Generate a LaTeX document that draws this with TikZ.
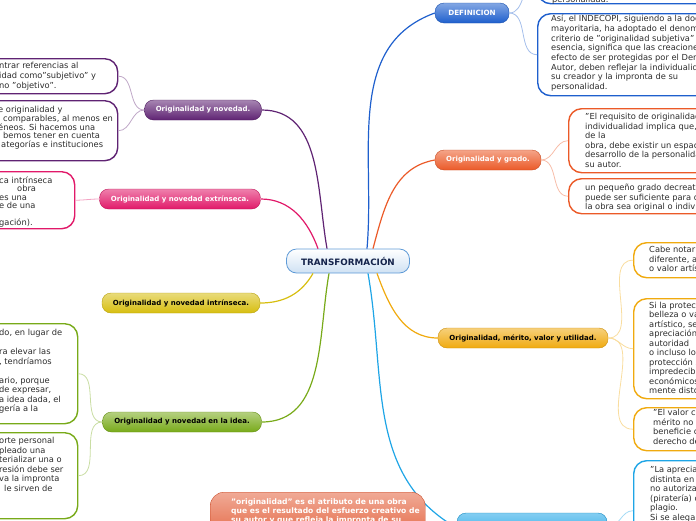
\documentclass[tikz,border=0pt]{standalone}
\usepackage{fontspec}
\setmainfont{DejaVu Sans}
\usetikzlibrary{positioning,calc}

\definecolor{defblue}{RGB}{30,95,205}
\definecolor{gradoorange}{RGB}{235,90,40}
\definecolor{meritoyellow}{RGB}{240,170,15}
\definecolor{plagioblue}{RGB}{30,165,230}
\definecolor{novpurple}{RGB}{95,35,115}
\definecolor{extpink}{RGB}{225,25,105}
\definecolor{intyellow}{RGB}{215,190,15}
\definecolor{ideagreen}{RGB}{120,170,25}
\definecolor{rootblue}{RGB}{95,155,215}
\definecolor{rootnavy}{RGB}{20,35,75}
\definecolor{notaorange}{RGB}{225,85,45}
\definecolor{bodytext}{RGB}{45,45,45}

\tikzset{
  root/.style={rectangle, rounded corners=10pt, draw=rootblue, line width=0.8pt,
    top color=white, bottom color=rootblue!30, minimum width=123pt, minimum height=24pt,
    font=\fontsize{8.8}{10}\selectfont\bfseries, text=rootnavy, inner sep=0pt},
  branch/.style={rectangle, rounded corners=9pt, draw=#1!85!black, line width=0.4pt,
    top color=#1!55!white, bottom color=#1, minimum height=20pt,
    font=\fontsize{7}{8}\selectfont\bfseries, text=white, inner sep=0pt},
  darkbranch/.style={branch=#1, text=black},
  leaf/.style={rectangle, rounded corners=13pt, draw=#1, line width=1.4pt, fill=white,
    anchor=north west, inner sep=0pt},
  leaftext/.style={anchor=north west, align=left, inner sep=0pt,
    font=\fontsize{8.3}{9.5}\selectfont, text=bodytext},
  stem/.style={line width=1.2pt, draw=#1},
  twig/.style={line width=0.8pt, draw=#1!40!white},
}

\begin{document}
\begin{tikzpicture}[x=1pt,y=1pt]
\useasboundingbox (0,0) rectangle (696,-520);
\clip (0,0) rectangle (696,-520);

%centre
\node[root] (root) at (348,-261) {TRANSFORMACIÓN};

%right branches
\node[branch=defblue, minimum width=74pt, font=\fontsize{7.2}{8}\selectfont\bfseries] (defi) at (472,-13) {DEFINICION};
\node[branch=gradoorange, minimum width=106pt] (grado) at (488,-160) {Originalidad y grado.};
\node[darkbranch=meritoyellow, minimum width=170pt] (merito) at (523,-338) {Originalidad, mérito, valor y utilidad.};
\node[branch=plagioblue, minimum width=150pt, minimum height=30pt] (plagio) at (532,-528) {};

%left branches
\node[branch=novpurple, minimum width=117pt] (novedad) at (203,-110) {Originalidad y novedad.};
\node[branch=extpink, minimum width=161pt] (extrin) at (180,-199) {Originalidad y novedad extrínseca.};
\node[darkbranch=intyellow, minimum width=158pt] (intrin) at (181,-303) {Originalidad y novedad intrínseca.};
\node[darkbranch=ideagreen, minimum width=159pt] (enidea) at (182,-422) {Originalidad y novedad en la idea.};

%stems
\draw[stem=defblue] ([xshift=19pt]root.north) to[out=85,in=200] (defi.west);
\draw[stem=gradoorange] ([xshift=25pt]root.north) to[out=75,in=190] (grado.west);
\draw[stem=meritoyellow] ([xshift=29pt]root.south) to[out=-70,in=180] (merito.west);
\draw[stem=plagioblue] ([xshift=20pt]root.south) to[out=-80,in=150] (plagio.west);
\draw[stem=novpurple] ([xshift=-21pt]root.north) to[out=100,in=0] (novedad.east);
\draw[stem=extpink] ([xshift=-30pt]root.north) to[out=110,in=0] (extrin.east);
\draw[stem=intyellow] ([xshift=-35pt]root.south) to[out=-120,in=0] (intrin.east);
\draw[stem=ideagreen] ([xshift=-19pt]root.south) to[out=-100,in=0] (enidea.east);

%DEFINICION
\node[leaf=defblue, minimum width=200pt, minimum height=43pt] (defa) at (537,40) {};
\node[leaf=defblue, minimum width=200pt, minimum height=82pt] (defb) at (537,-13) {};
\node[leaftext, anchor=base west] (defatxt) at (552,-2.5) {personalidad.};
\node[leaftext, font=\fontsize{8.3}{9.7}\selectfont] (defbtxt) at (551,-14.8) {Así, el INDECOPI, siguiendo a la doctrina\\
mayoritaria, ha adoptado el denominado\\
criterio de "originalidad subjetiva" que en\\
esencia, significa que las creaciones, a\\
efecto de ser protegidas por el Derecho de\\
Autor, deben reflejar la individualidad de\\
su creador y la impronta de su\\
personalidad.};
\draw[twig=defblue] (defi.east) to[out=0,in=180] (defa.west);
\draw[twig=defblue] (defi.east) to[out=0,in=180] (defb.west);

%grado
\node[leaf=gradoorange, minimum width=160pt, minimum height=64pt] (gradoa) at (568,-108) {};
\node[leaf=gradoorange, minimum width=160pt, minimum height=35pt] (gradob) at (568,-178) {};
\node[leaftext] (gradoatxt) at (585,-113) {"El requisito de originalidad o\\
individualidad implica que, para\\
de la\\
obra, debe existir un espacio para el\\
desarrollo de la personalidad de\\
su autor.};
\node[leaftext] (gradobtxt) at (585,-184) {un pequeño grado decreatividad\\
puede ser suficiente para determinar que\\
la obra sea original o individual};
\draw[twig=gradoorange] (grado.east) to[out=0,in=180] (gradoa.west);
\draw[twig=gradoorange] (grado.east) to[out=0,in=180] (gradob.west);

%merito
\node[leaf=meritoyellow, minimum width=100pt, minimum height=35pt] (meritoa) at (633,-242) {};
\node[leaf=meritoyellow, minimum width=100pt, minimum height=100pt] (meritob) at (633,-298) {};
\node[leaf=meritoyellow, minimum width=100pt, minimum height=43pt] (meritoc) at (633,-407) {};
\node[leaftext] (meritoatxt) at (649,-246) {Cabe notar que\\
diferente, al\\
o valor artístico};
\node[leaftext] (meritobtxt) at (649,-301.5) {Si la protección\\
belleza o valor\\
artístico, se\\
apreciación\\
autoridad\\
o incluso los\\
protección se\\
impredecible\\
económicos\\
mente distorsionado};
\node[leaftext] (meritoctxt) at (653,-409) {"El valor cultural\\
mérito no\\
beneficie con\\
derecho de};
\draw[twig=meritoyellow] (merito.east) to[out=0,in=180] (meritoa.west);
\draw[twig=meritoyellow] (merito.east) to[out=0,in=180] (meritob.west);
\draw[twig=meritoyellow] (merito.east) to[out=0,in=180] (meritoc.west);

%plagio
\node[leaf=plagioblue, minimum width=100pt, minimum height=100pt] (plagioa) at (633,-460) {};
\node[leaftext] (plagioatxt) at (650,-466) {"La apreciación\\
distinta en\\
no autorizada\\
(piratería) o\\
plagio.\\
Si se alegan};
\draw[twig=plagioblue] (plagio.east) to[out=0,in=180] (plagioa.west);

%novedad
\node[leaf=novpurple, minimum width=177pt, minimum height=35pt] (novedada) at (-60,-58) {};
\node[leaf=novpurple, minimum width=177pt, minimum height=60pt] (novedadb) at (-60,-100) {};
\node[leaftext, font=\fontsize{8.3}{10}\selectfont] (novedadatxt) at (-1,-61.5) {ntrar referencias al\\
idad como"subjetivo" y\\
no "objetivo".};
\node[leaftext, font=\fontsize{8.3}{8.8}\selectfont] (novedadbtxt) at (-2,-106) {e originalidad y\\
\hspace*{5pt}comparables, al menos en\\
éneos. Si hacemos una\\
\hspace*{5pt}bemos tener en cuenta\\
\hspace*{3pt}ategorías e instituciones};
\draw[twig=novpurple] (novedad.west) to[out=180,in=0] (novedada.east);
\draw[twig=novpurple] (novedad.west) to[out=180,in=0] (novedadb.east);

%extrinseca
\node[leaf=extpink, minimum width=134pt, minimum height=57pt] (extrina) at (-60,-171) {};
\node[leaftext, font=\fontsize{8.3}{8.4}\selectfont] (extrinatxt) at (-1,-176.5) {ca intrínseca\\
\hspace*{18pt}obra\\
es una\\
e de una\\[8.4pt]
gación).};
\draw[twig=extpink] (extrin.west) to[out=180,in=0] (extrina.east);

%en la idea
\node[leaf=ideagreen, minimum width=137pt, minimum height=100pt] (enideaa) at (-60,-323) {};
\node[leaf=ideagreen, minimum width=137pt, minimum height=86pt] (enideab) at (-60,-432) {};
\node[leaftext] (enideaatxt) at (-1,-329) {do, en lugar de\\[9.5pt]
ra elevar las\\
, tendríamos\\[9.5pt]
ario, porque\\
de expresar,\\
a idea dada, el\\
gería a la};
\node[leaftext] (enideabtxt) at (-1,-437) {orte personal\\
pleado una\\
terializar una o\\
resión debe ser\\
va la impronta\\
\hspace*{5pt}le sirven de};
\draw[twig=ideagreen] (enidea.west) to[out=180,in=0] (enideaa.east);
\draw[twig=ideagreen] (enidea.west) to[out=180,in=0] (enideab.east);

%floating note
\node[rectangle, rounded corners=14pt, anchor=north west, top color=notaorange!50!white, bottom color=notaorange,
  draw=notaorange!90!black, line width=0.4pt, minimum width=215pt, minimum height=60pt, inner sep=0pt] (nota) at (210,-492) {};
\node[leaftext, font=\fontsize{7.6}{9}\selectfont\bfseries, text=white] (notatxt) at (231,-498.5) {"originalidad" es el atributo de una obra\\
que es el resultado del esfuerzo creativo de\\
su autor y que refleja la impronta de su};
\end{tikzpicture}
\end{document}
